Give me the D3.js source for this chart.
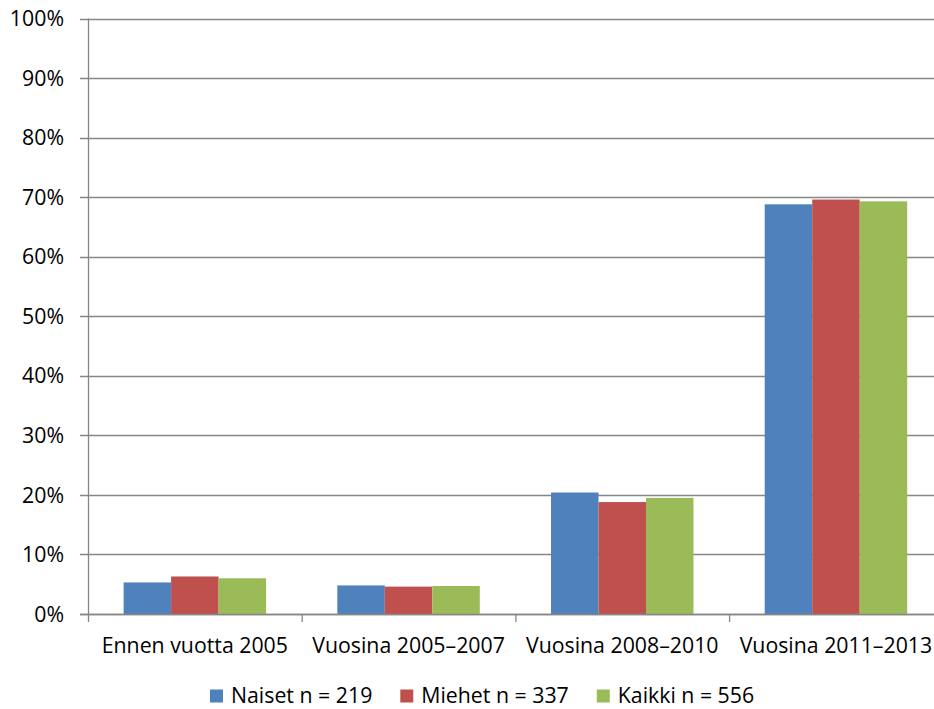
<!DOCTYPE html>
<html>
<head>
<meta charset="utf-8">
<script src="https://cdn.jsdelivr.net/npm/d3@7"></script>
<style>
  html, body { margin: 0; padding: 0; background: #fff; }
  svg { display: block; }
  text { font-family: "Open Sans", "Noto Sans", sans-serif; fill: #000; }
</style>
</head>
<body>
<svg id="chart" width="934" height="709"></svg>
<script>
const categories = ["Ennen vuotta 2005", "Vuosina 2005–2007", "Vuosina 2008–2010", "Vuosina 2011–2013"];
const seriesNames = ["Naiset n = 219", "Miehet n = 337", "Kaikki n = 556"];
const naiset = [5.3, 4.8, 20.4, 68.8];
const miehet = [6.3, 4.6, 18.8, 69.6];
const kaikki = [6.0, 4.7, 19.5, 69.3];
const colors = ["#4F81BD", "#C0504D", "#9BBB59"];
const yTicks = [0, 10, 20, 30, 40, 50, 60, 70, 80, 90, 100];

const seriesValues = [naiset, miehet, kaikki];
const svg = d3.select("#chart");

const mLeft = 88, mRight = 942.8, mTop = 18.5, mBottom = 614;
const x0 = d3.scaleBand().domain(categories).range([mLeft, mRight]).padding(0);
const step = x0.bandwidth();
const x1 = d3.scaleBand().domain(d3.range(seriesNames.length))
  .range([step / 6, step - step / 6]).padding(0);
const y = d3.scaleLinear().domain([0, 100]).range([mBottom, mTop]);

const gridColor = "#868686";
const fs = "21.3px";

// gridlines
svg.append("g").selectAll("line").data(yTicks).join("line")
  .attr("x1", mLeft - 8).attr("x2", 934)
  .attr("y1", d => Math.round(y(d)) + 0.5).attr("y2", d => Math.round(y(d)) + 0.5)
  .attr("stroke", gridColor).attr("stroke-width", 1.3);

// y labels
svg.append("g").selectAll("text").data(yTicks).join("text")
  .attr("x", 64).attr("y", d => y(d))
  .attr("dy", "0.36em")
  .attr("text-anchor", "end")
  .style("font-size", fs)
  .text(d => d + "%");

// bars
const groups = svg.append("g").selectAll("g").data(categories).join("g")
  .attr("transform", c => `translate(${x0(c)},0)`);
groups.selectAll("rect")
  .data((c, i) => seriesValues.map((s, j) => ({ j, v: s[i] })))
  .join("rect")
  .attr("x", d => x1(d.j))
  .attr("width", x1.bandwidth())
  .attr("y", d => y(d.v))
  .attr("height", d => y(0) - y(d.v))
  .attr("fill", d => colors[d.j]);

// y axis line
svg.append("line")
  .attr("x1", mLeft + 0.5).attr("x2", mLeft + 0.5)
  .attr("y1", mTop).attr("y2", mBottom + 1)
  .attr("stroke", gridColor).attr("stroke-width", 1.3);

// x axis line
svg.append("line")
  .attr("x1", mLeft - 8).attr("x2", 934)
  .attr("y1", Math.round(mBottom) + 0.5).attr("y2", Math.round(mBottom) + 0.5)
  .attr("stroke", gridColor).attr("stroke-width", 1.5);

// x ticks at category boundaries
const boundaries = categories.map(c => x0(c)).concat([mRight]);
svg.append("g").selectAll("line").data(boundaries).join("line")
  .attr("x1", d => d + 0.5).attr("x2", d => d + 0.5)
  .attr("y1", mBottom).attr("y2", mBottom + 8)
  .attr("stroke", gridColor).attr("stroke-width", 1.3);

// x labels
svg.append("g").selectAll("text").data(categories).join("text")
  .attr("x", c => x0(c) + step / 2)
  .attr("y", 653)
  .attr("text-anchor", "middle")
  .style("font-size", fs)
  .text(c => c);

// legend
const legend = svg.append("g");
let lx = 210;
seriesNames.forEach((name, i) => {
  legend.append("rect")
    .attr("x", lx).attr("y", 689.5).attr("width", 13).attr("height", 13)
    .attr("fill", colors[i]);
  const t = legend.append("text")
    .attr("x", lx + 21).attr("y", 703)
    .style("font-size", fs)
    .text(name);
  lx += 21 + t.node().getComputedTextLength() + 28;
});
</script>
</body>
</html>
